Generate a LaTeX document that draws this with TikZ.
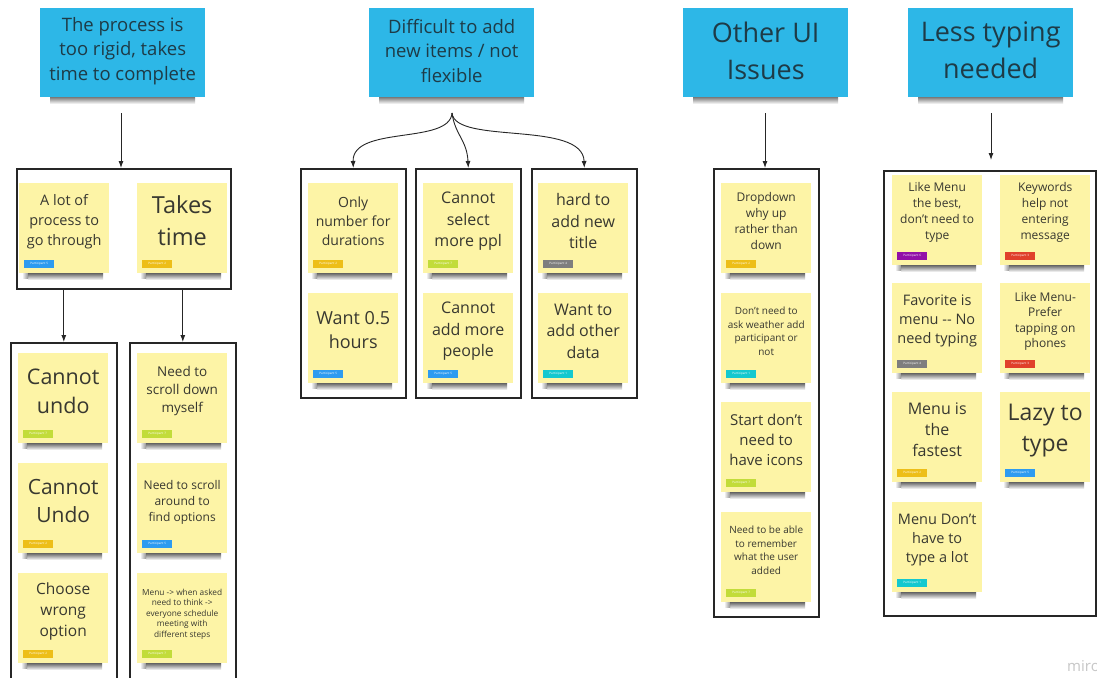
\documentclass[tikz,border=0pt]{standalone}
\usepackage{fontspec}
\setmainfont{Open Sans}[Ligatures=NoCommon]
\usetikzlibrary{arrows.meta,shadings}
\definecolor{stickyfill}{HTML}{FDF4A6}
\definecolor{headfill}{HTML}{2DB7E7}
\definecolor{headtext}{HTML}{1E3B47}
\definecolor{stickytext}{HTML}{383830}
\definecolor{tblue}{HTML}{2D9BF0}
\definecolor{tyellow}{HTML}{EDBE18}
\definecolor{tlime}{HTML}{C2DC3A}
\definecolor{tgray}{HTML}{7E7E7E}
\definecolor{tcyan}{HTML}{14C8CF}
\definecolor{tpurple}{HTML}{9210A8}
\definecolor{tred}{HTML}{E0402B}
\tikzset{
  sticky/.style={fill=stickyfill, minimum width=90pt, minimum height=90pt, inner sep=0pt},
  stxt/.style={align=center, text=stickytext, inner sep=0pt},
  tagbox/.style={font=\fontsize{3}{3}\selectfont, text=white, minimum width=30pt, minimum height=8pt, inner sep=0.5pt},
  header/.style={fill=headfill, minimum width=165pt, minimum height=89pt, inner sep=0pt},
  htxt/.style={align=center, text=headtext, inner sep=0pt},
  grp/.style={draw=black!85, line width=1.6pt, inner sep=0pt},
  conn/.style={draw=black!85, line width=0.9pt, -{Latex[length=7pt,width=5pt]}},
}
% #1 name, #2 x, #3 y, #4 font size, #5 baseline, #6 text, #7 tag colour, #8 participant, #9 raise
\newcommand\stk[9]{%
  \shade[top color=black!70, bottom color=white] (#2+9,#3+89) rectangle (#2+84,#3+97);
  \shade[left color=white, right color=black!70, opacity=0.6] (#2+3,#3+89) rectangle (#2+9,#3+95);
  \node[sticky, anchor=north west] (#1) at (#2,#3) {};
  \node[stxt, font=\fontsize{#4}{#5}\selectfont, yshift=#9pt] (#1t) at (#1.center) {#6};
  \node[tagbox, fill=#7, anchor=south west] (#1g) at ([xshift=5pt,yshift=5pt]#1.south west) {Participant #8};
}
% #1 name, #2 x, #3 y, #4 font size, #5 baseline, #6 text
\newcommand\hdr[6]{%
  \shade[top color=black!60, bottom color=white] (#2+10,#3+88) rectangle (#2+155,#3+96);
  \node[header, anchor=north west] (#1) at (#2,#3) {};
  \node[htxt, font=\fontsize{#4}{#5}\selectfont, yshift=2pt] (#1t) at (#1.center) {#6};
}
\begin{document}
\begin{tikzpicture}[x=1pt,y=-1pt]
\useasboundingbox (0,0) rectangle (1097,677);
\fill[white] (0,0) rectangle (1097,677);

% headers
\hdr{h1}{40}{8}{18.5}{24.5}{The process is\\too rigid, takes\\time to complete}
\hdr{h2}{369}{8}{18.5}{24.5}{Difficult to add\\new items / not\\flexible}
\hdr{h3}{683}{8}{27}{37}{Other UI\\Issues}
\hdr{h4}{908}{8}{27}{37}{Less typing\\needed}

% group boxes
\node[grp, minimum width=214pt, minimum height=120pt, anchor=north west] (g1) at (16,168) {};
\node[grp, minimum width=106pt, minimum height=350pt, anchor=north west] (g2a) at (10,342) {};
\node[grp, minimum width=106pt, minimum height=350pt, anchor=north west] (g2b) at (129,342) {};
\node[grp, minimum width=105pt, minimum height=229pt, anchor=north west] (g3a) at (300,168) {};
\node[grp, minimum width=105pt, minimum height=229pt, anchor=north west] (g3b) at (415,168) {};
\node[grp, minimum width=105pt, minimum height=229pt, anchor=north west] (g3c) at (531,168) {};
\node[grp, minimum width=105pt, minimum height=448pt, anchor=north west] (g4) at (713,168) {};
\node[grp, minimum width=212pt, minimum height=445pt, anchor=north west] (g5) at (883,170) {};

% connectors
\coordinate (a1) at (121,113);
\coordinate (a2) at (452,113);
\coordinate (a3) at (765,113);
\coordinate (a4) at (991,113);
\coordinate (a4e) at (991,160);
\draw[conn] (a1) -- (a1 |- g1.north);
\draw[conn] (g2a.north |- g1.south) -- (g2a.north);
\draw[conn] (g2b.north |- g1.south) -- (g2b.north);
\draw[conn] (a2) .. controls (450,145) and (352,125) .. (g3a.north);
\draw[conn] (a2) .. controls (455,135) and (467,140) .. (g3b.north);
\draw[conn] (a2) .. controls (455,145) and (583,120) .. (g3c.north);
\draw[conn] (a3) -- (a3 |- g4.north);
\draw[conn] (a4) -- (a4e);

% group 1
\stk{s1}{19}{183}{14.5}{20}{A lot of\\process to\\go through}{tblue}{5}{7}
\stk{s2}{137}{183}{23.5}{32}{Takes\\time}{tyellow}{2}{8}
% group 2a
\stk{s3}{18}{353}{21.5}{29}{Cannot\\undo}{tlime}{7}{7}
\stk{s4}{18}{463}{21}{28.5}{Cannot\\Undo}{tyellow}{2}{7}
\stk{s5}{18}{573}{15.5}{21}{Choose\\wrong\\option}{tyellow}{2}{7}
% group 2b
\stk{s6}{137}{353}{13.5}{18}{Need to\\scroll down\\myself}{tlime}{7}{7}
\stk{s7}{137}{463}{12}{16}{Need to scroll\\around to\\find options}{tblue}{5}{6}
\stk{s8}{137}{573}{8.3}{10.5}{Menu -> when asked\\need to think ->\\everyone schedule\\meeting with\\different steps}{tlime}{7}{4}
% group 3
\stk{s9}{308}{183}{14}{19}{Only\\number for\\durations}{tyellow}{2}{7}
\stk{s10}{308}{293}{18}{23.5}{Want 0.5\\hours}{tblue}{5}{8}
\stk{s11}{423}{183}{16}{21.5}{Cannot\\select\\more ppl}{tlime}{7}{7}
\stk{s12}{423}{293}{16}{21.5}{Cannot\\add more\\people}{tblue}{5}{7}
\stk{s13}{538}{183}{16}{21.5}{hard to\\add new\\title}{tgray}{4}{7}
\stk{s14}{538}{293}{16}{21.5}{Want to\\add other\\data}{tcyan}{1}{7}
% group 4
\stk{s15}{721}{183}{12}{16}{Dropdown\\why up\\rather than\\down}{tyellow}{2}{7}
\stk{s16}{721}{293}{10}{13.8}{Don’t need to\\ask weather add\\participant or\\not}{tcyan}{1}{7}
\stk{s17}{721}{402}{15}{20}{Start don’t\\need to\\have icons}{tlime}{7}{7}
\stk{s18}{721}{512}{10}{13.8}{Need to be able\\to remember\\what the user\\added}{tlime}{7}{7}
% group 5
\stk{s19}{892}{175}{12}{16}{Like Menu\\the best,\\don’t need to\\type}{tpurple}{6}{8}
\stk{s20}{1000}{175}{12}{16}{Keywords\\help not\\entering\\message}{tred}{3}{8}
\stk{s21}{892}{283}{14.5}{19}{Favorite is\\menu -{}- No\\need typing}{tgray}{4}{7}
\stk{s22}{1000}{283}{12}{15.5}{Like Menu-\\Prefer\\tapping on\\phones}{tred}{3}{7}
\stk{s23}{892}{392}{16}{21}{Menu is\\the\\fastest}{tyellow}{2}{7}
\stk{s24}{1000}{392}{23}{31}{Lazy to\\type}{tblue}{5}{7}
\stk{s25}{892}{502}{14.5}{19}{Menu Don’t\\have to\\type a lot}{tcyan}{1}{7}

% logo
\node[anchor=west, text=black!22, font=\fontsize{15}{15}\selectfont, inner sep=0pt] (logo) at (1067,666) {miro};
\end{tikzpicture}
\end{document}
